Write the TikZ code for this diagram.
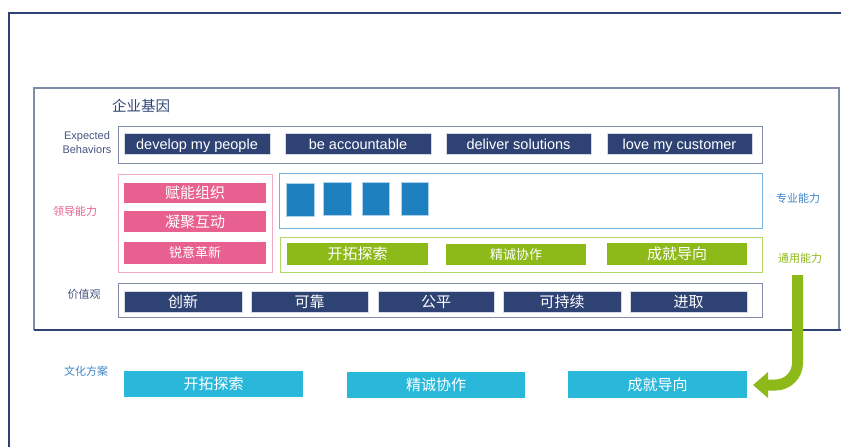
\documentclass[tikz,border=0pt]{standalone}
\usepackage{fontspec}
\setmainfont{Liberation Sans}
\newfontfamily\cjk{Noto Sans CJK SC}
\usetikzlibrary{arrows.meta}
\definecolor{navy}{HTML}{2E4374}
\definecolor{framegrey}{HTML}{7F8BA8}
\definecolor{pinkf}{HTML}{E8608F}
\definecolor{pinkb}{HTML}{F4A9C3}
\definecolor{bluef}{HTML}{1F80C0}
\definecolor{blueb}{HTML}{74B3DE}
\definecolor{greenf}{HTML}{8DB919}
\definecolor{greenb}{HTML}{B5D66A}
\definecolor{cyanf}{HTML}{29B8DA}
\definecolor{lblue}{HTML}{3D86C6}
\definecolor{lnavy}{HTML}{46557F}
\tikzset{
  box/.style={inner sep=0pt, outer sep=0pt, text=white, align=center},
  navybox/.style={box, fill=navy, draw=navy!20, line width=0.6pt},
  pinkbox/.style={box, fill=pinkf},
  greenbox/.style={box, fill=greenf},
  cyanbox/.style={box, fill=cyanf},
  sqbox/.style={box, fill=bluef, draw=blueb!60, line width=0.6pt},
  lbl/.style={font=\cjk\fontsize{11}{13}\selectfont, inner sep=0pt},
  big/.style={font=\cjk\fontsize{15}{17}\selectfont},
  small/.style={font=\cjk\fontsize{13}{15}\selectfont},
  eng/.style={font=\fontsize{14.5}{16}\selectfont, text height=11pt, text depth=0pt},
}
\begin{document}
\begin{tikzpicture}[x=1pt,y=-1pt]
\useasboundingbox (0,0) rectangle (841,447);
% outer frame
\draw[navy, line width=2pt] (9,447) -- (9,13) -- (841,13);
% inner frame
\draw[framegrey, line width=1.2pt] (34,330) -- (34,88) -- (839,88) -- (839,330);
\draw[navy, line width=1.4pt] (34,330) -- (841,330);
\node[lbl, text=navy, font=\cjk\fontsize{14.5}{16}\selectfont] (title) at (141,106) {企业基因};

% Expected behaviors row
\draw[framegrey, line width=1pt] (118,126) rectangle (762,163);
\node[lbl, text=lnavy, font=\fontsize{11}{14}\selectfont, align=center] (eb) at (87,143) {Expected\\Behaviors};
\node[navybox, eng, minimum width=146pt, minimum height=21pt] (b1) at (197,143.5) {develop my people};
\node[navybox, eng, minimum width=146pt, minimum height=21pt] (b2) at (358,143.5) {be accountable};
\node[navybox, eng, minimum width=145pt, minimum height=21pt] (b3) at (518.5,143.5) {deliver solutions};
\node[navybox, eng, minimum width=145pt, minimum height=21pt] (b4) at (679.5,143.5) {love my customer};

% leadership
\draw[pinkb, line width=1pt] (118,174) rectangle (272,272);
\node[lbl, text=pinkf] (ld) at (75,211) {领导能力};
\node[pinkbox, big, minimum width=142pt, minimum height=20pt] (p1) at (195,193) {赋能组织};
\node[pinkbox, big, minimum width=142pt, minimum height=21pt] (p2) at (195,221.5) {凝聚互动};
\node[pinkbox, small, minimum width=142pt, minimum height=22pt] (p3) at (195,253) {锐意革新};

% professional
\draw[blueb, line width=1pt] (279,173) rectangle (762,228);
\node[lbl, text=lblue] (zy) at (798,198) {专业能力};
\node[sqbox, minimum width=28pt, minimum height=33pt] (s1) at (300,199.5) {};
\node[sqbox, minimum width=28pt, minimum height=33pt] (s2) at (337,198.5) {};
\node[sqbox, minimum width=27pt, minimum height=33pt] (s3) at (375.5,198.5) {};
\node[sqbox, minimum width=27pt, minimum height=33pt] (s4) at (414.5,198.5) {};

% general
\draw[greenb, line width=1pt] (280,237) rectangle (762,272);
\node[lbl, text=greenf] (ty) at (800,258) {通用能力};
\node[greenbox, big, minimum width=141pt, minimum height=22pt] (g1) at (357.5,254) {开拓探索};
\node[greenbox, small, minimum width=140pt, minimum height=21pt] (g2) at (516,254.5) {精诚协作};
\node[greenbox, big, minimum width=140pt, minimum height=22pt] (g3) at (677,254) {成就导向};

% values
\draw[framegrey, line width=1pt] (118,283) rectangle (762,317);
\node[lbl, text=lnavy] (jz) at (84,294) {价值观};
\node[navybox, big, minimum width=118pt, minimum height=21pt] (v1) at (183,301.5) {创新};
\node[navybox, big, minimum width=117pt, minimum height=21pt] (v2) at (309.5,301.5) {可靠};
\node[navybox, big, minimum width=116pt, minimum height=21pt] (v3) at (436,301.5) {公平};
\node[navybox, big, minimum width=118pt, minimum height=21pt] (v4) at (562,301.5) {可持续};
\node[navybox, big, minimum width=117pt, minimum height=21pt] (v5) at (688.5,301.5) {进取};

% culture
\node[lbl, text=lblue] (wh) at (86,371) {文化方案};
\node[cyanbox, big, minimum width=179pt, minimum height=26pt] (c1) at (213.5,384) {开拓探索};
\node[cyanbox, big, minimum width=178pt, minimum height=26pt] (c2) at (436,385) {精诚协作};
\node[cyanbox, big, minimum width=179pt, minimum height=27pt] (c3) at (657.5,384.5) {成就导向};

% arrow
\coordinate (astart) at (797.5,275);
\coordinate (acorner) at (797.5,385);
\coordinate (atip) at (753,385);
\draw[greenf, line width=11pt, rounded corners=22pt, -{Triangle[length=15pt,width=25pt]}] (astart) -- (acorner) -- (atip);
\end{tikzpicture}
\end{document}
